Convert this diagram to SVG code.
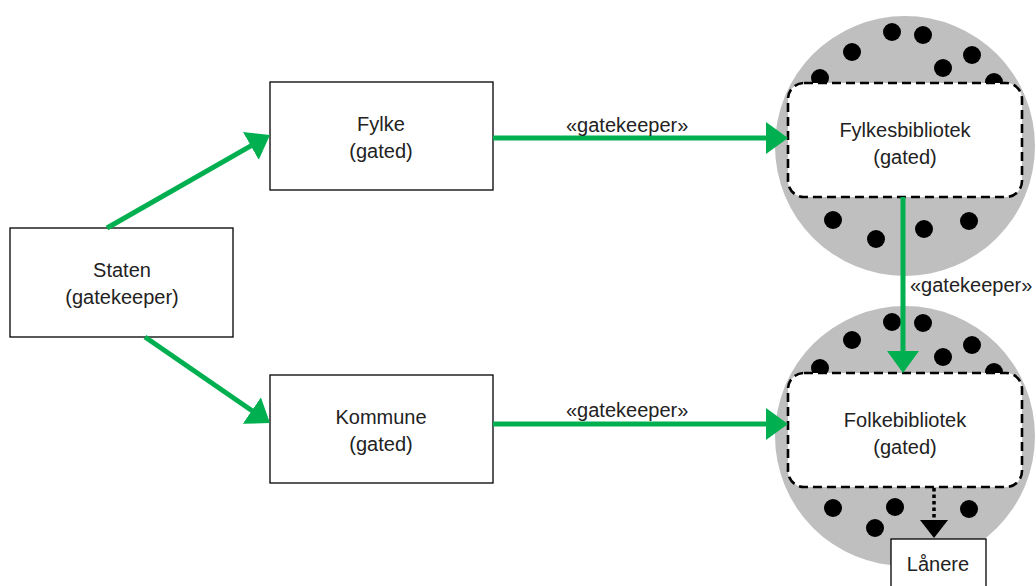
<svg xmlns="http://www.w3.org/2000/svg" width="1036" height="586" viewBox="0 0 1036 586">
<style>
.box{fill:#fff;stroke:#000;stroke-width:1.3}
.lib{fill:#fff;stroke:#000;stroke-width:2.6;stroke-dasharray:9 5}
.halo{fill:#bfbfbf}
.dot{fill:#000}
.t{font-family:"Liberation Sans",Arial,sans-serif;font-size:20px;fill:#222;text-anchor:middle}
.lbl{font-family:"Liberation Sans",Arial,sans-serif;font-size:20px;fill:#222}
.g{stroke:#00b050;stroke-width:5;fill:none}
</style>
<defs>
<marker id="ah" viewBox="0 0 22 32" markerWidth="22" markerHeight="32" refX="2" refY="16" orient="auto" markerUnits="userSpaceOnUse">
<path d="M0,0 L22,16 L0,32 z" fill="#00b050"/>
</marker>
</defs>
<rect width="1036" height="586" fill="#fff"/>

<g id="fylkesbibliotek">
<circle class="halo" cx="905" cy="146" r="130"/>
<circle class="dot" cx="892" cy="32" r="9"/>
<circle class="dot" cx="923" cy="35" r="9"/>
<circle class="dot" cx="852" cy="52" r="9"/>
<circle class="dot" cx="972" cy="55" r="9"/>
<circle class="dot" cx="943" cy="68" r="9"/>
<circle class="dot" cx="820" cy="78" r="9"/>
<circle class="dot" cx="994" cy="82" r="9"/>
<circle class="dot" cx="833" cy="220" r="9"/>
<circle class="dot" cx="876" cy="239" r="9"/>
<circle class="dot" cx="924" cy="229" r="9"/>
<circle class="dot" cx="969" cy="221" r="9"/>
<rect class="lib" x="788" y="83" width="234" height="114" rx="16"/>
<text class="t" x="905" y="137">Fylkesbibliotek</text>
<text class="t" x="905" y="164">(gated)</text>
</g>

<g id="folkebibliotek">
<circle class="halo" cx="905" cy="436" r="130"/>
<circle class="dot" cx="892" cy="322" r="9"/>
<circle class="dot" cx="923" cy="323" r="9"/>
<circle class="dot" cx="852" cy="340" r="9"/>
<circle class="dot" cx="972" cy="345" r="9"/>
<circle class="dot" cx="943" cy="357" r="9"/>
<circle class="dot" cx="820" cy="368" r="9"/>
<circle class="dot" cx="994" cy="372" r="9"/>
<circle class="dot" cx="833" cy="508" r="9"/>
<circle class="dot" cx="875" cy="528" r="9"/>
<circle class="dot" cx="895" cy="507" r="9"/>
<circle class="dot" cx="969" cy="509" r="9"/>
<rect class="lib" x="788" y="373" width="234" height="114" rx="16"/>
<text class="t" x="905" y="427">Folkebibliotek</text>
<text class="t" x="905" y="454">(gated)</text>
</g>

<g id="staten">
<rect class="box" x="10" y="228" width="223" height="109"/>
<text class="t" x="122" y="277">Staten</text>
<text class="t" x="122" y="304">(gatekeeper)</text>
</g>

<g id="fylke">
<rect class="box" x="270" y="82" width="223" height="108"/>
<text class="t" x="381" y="131">Fylke</text>
<text class="t" x="381" y="158">(gated)</text>
</g>

<g id="kommune">
<rect class="box" x="270" y="375" width="223" height="108"/>
<text class="t" x="381" y="424">Kommune</text>
<text class="t" x="381" y="451">(gated)</text>
</g>

<g id="lanere">
<rect class="box" x="891" y="539" width="95" height="52"/>
<text class="t" x="938" y="571">Lånere</text>
</g>

<g id="connectors">
<line class="g" x1="107" y1="228" x2="252.6" y2="144.9" marker-end="url(#ah)"/>
<line class="g" x1="145" y1="337" x2="253.5" y2="411.7" marker-end="url(#ah)"/>
<line class="g" x1="493" y1="138" x2="768" y2="138" marker-end="url(#ah)"/>
<line class="g" x1="493" y1="424" x2="768" y2="424" marker-end="url(#ah)"/>
<line class="g" x1="903" y1="197" x2="903" y2="353" marker-end="url(#ah)"/>
<line x1="934" y1="488" x2="934" y2="521" stroke="#000" stroke-width="3.5" stroke-dasharray="3.5 3"/>
<polygon points="920,520 948,520 934,538" fill="#000"/>
<text class="lbl" x="566" y="132">«gatekeeper»</text>
<text class="lbl" x="566" y="417">«gatekeeper»</text>
<text class="lbl" x="910" y="292">«gatekeeper»</text>
</g>
</svg>
